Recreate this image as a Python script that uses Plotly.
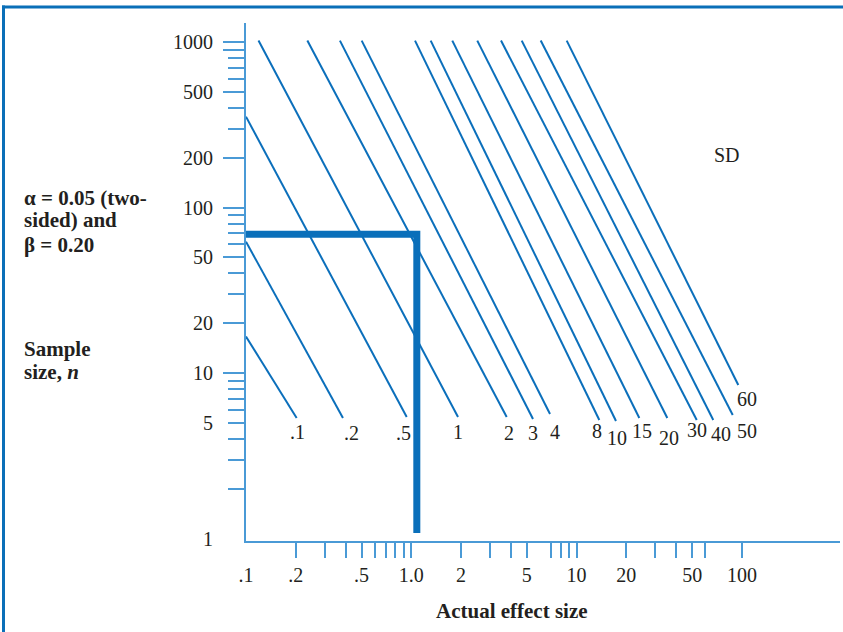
import plotly.graph_objects as go

# ---------------- data ----------------
sd_labels = [".1", ".2", ".5", "1", "2", "3", "4", "8", "10", "15", "20", "30", "40", "50", "60"]
start_effect = [0.1, 0.1, 0.1, 0.119, 0.235, 0.370, 0.501, 1.053, 1.310, 1.770, 2.507, 3.488, 4.655, 6.065, 8.71]
start_n = [16.6, 62.1, 354, 1020, 1020, 1020, 1020, 1020, 1020, 1020, 1020, 1020, 1020, 1020, 1020]
end_effect = [0.2025, 0.386, 0.938, 1.917, 3.777, 5.448, 6.905, 13.72, 17.31, 23.95, 35.38, 53.3, 67.1, 88.0, 95.1]
end_n = [5.35, 5.35, 5.42, 5.42, 5.42, 5.27, 5.65, 5.20, 5.13, 5.35, 5.35, 5.20, 5.20, 5.58, 8.46]

example_effect = 1.08
example_n = 69
example_floor_n = 1.08

x_tick_vals = [0.1, 0.2, 0.5, 1, 2, 5, 10, 20, 50, 100]
x_tick_text = [".1", ".2", ".5", "1.0", "2", "5", "10", "20", "50", "100"]
x_mark_vals = [0.2, 0.3, 0.4, 0.5, 0.6, 0.7, 0.8, 0.9, 1, 2, 3, 4, 5, 7, 8, 9, 10,
               20, 30, 40, 50, 60, 100]
y_tick_vals = [1, 5, 10, 20, 50, 100, 200, 500, 1000]
y_tick_text = ["1", "5", "10", "20", "50", "100", "200", "500", "1000"]
y_long_marks = [10, 20, 50, 100, 200, 500, 900, 1000]
y_short_marks = [2, 3, 4, 5, 6, 7, 8, 9, 30, 40, 60, 70, 80, 90, 300, 400, 600, 700, 800]

# ---------------- styling ----------------
W, H = 843, 632
L, R, T, B = 246, 3, 23, 91
PW, PH = W - L - R, H - T - B
LINE_BLUE = "#0b6fbb"
AXIS_BLUE = "#4a9ad6"
FRAME_BLUE = "#0a6fb8"
TXT = "#231f20"
FONT = "Liberation Serif"
Y_RANGE = [-0.0151, 3.1148]


def px(x):
    return (x - L) / PW


def py(y):
    return (H - B - y) / PH


fig = go.Figure()

for lab, x0, y0, x1, y1 in zip(sd_labels, start_effect, start_n, end_effect, end_n):
    fig.add_trace(go.Scatter(x=[x0, x1], y=[y0, y1], mode="lines",
                             line=dict(color=LINE_BLUE, width=2),
                             name="SD " + lab, showlegend=False, hoverinfo="skip"))

# worked example (drawn on the overlaid y axis that carries the tick labels)
fig.add_trace(go.Scatter(x=[start_effect[0], example_effect, example_effect],
                         y=[example_n, example_n, example_floor_n], mode="lines",
                         line=dict(color="#0a6fba", width=7), yaxis="y2",
                         showlegend=False, hoverinfo="skip"))

# line labels
label_pos = [(297, 432), (351, 433), (403, 433), (458, 432), (509, 433), (533, 433),
             (555, 432), (597, 431), (617, 438), (642, 431), (669, 438), (697, 430),
             (721, 434), (747, 431), (747, 399)]
annotations = []
for lab, (lx, ly) in zip(sd_labels, label_pos):
    annotations.append(dict(x=px(lx), y=py(ly), xref="paper", yref="paper", text=lab,
                            showarrow=False, xanchor="center", yanchor="middle",
                            font=dict(family=FONT, size=20, color=TXT)))

annotations.append(dict(x=px(727), y=py(155), xref="paper", yref="paper", text="SD",
                        showarrow=False, xanchor="center", yanchor="middle",
                        font=dict(family=FONT, size=20, color=TXT)))

left_lines = [("<b>α = 0.05 (two-</b>", 198), ("<b>sided) and</b>", 220),
              ("<b>β = 0.20</b>", 245), ("<b>Sample</b>", 349),
              ("<b>size, <i>n</i></b>", 372)]
for txt, ly in left_lines:
    annotations.append(dict(x=px(22), y=py(ly), xref="paper", yref="paper", text=txt,
                            showarrow=False, xanchor="left", yanchor="middle",
                            font=dict(family=FONT, size=21, color=TXT)))

annotations.append(dict(x=px(512), y=py(611), xref="paper", yref="paper",
                        text="<b>Actual effect size</b>", showarrow=False,
                        xanchor="center", yanchor="middle",
                        font=dict(family=FONT, size=21, color=TXT)))

shapes = [
    dict(type="line", xref="paper", yref="paper", x0=px(2), x1=px(W), y0=py(7), y1=py(7),
         line=dict(color=FRAME_BLUE, width=3)),
    dict(type="line", xref="paper", yref="paper", x0=px(3.5), x1=px(3.5), y0=py(5.5), y1=py(H),
         line=dict(color=FRAME_BLUE, width=3)),
]

fig.update_layout(
    width=W, height=H, autosize=False,
    margin=dict(l=L, r=R, t=T, b=B, pad=0),
    plot_bgcolor="white", paper_bgcolor="white",
    showlegend=False,
    annotations=annotations, shapes=shapes,
    xaxis=dict(type="log", range=[-1, -1 + PW / 165.3], showgrid=False, zeroline=False,
               showline=True, linecolor=AXIS_BLUE, linewidth=2,
               tickmode="array", tickvals=x_tick_vals, ticktext=x_tick_text,
               ticks="", ticklabelstandoff=15,
               tickfont=dict(family=FONT, size=20, color=TXT),
               minor=dict(tickmode="array", tickvals=x_mark_vals, ticks="outside",
                          ticklen=15, tickwidth=2, tickcolor=AXIS_BLUE, showgrid=False)),
    yaxis=dict(type="log", range=Y_RANGE, showgrid=False, zeroline=False,
               showline=True, linecolor=AXIS_BLUE, linewidth=2,
               tickmode="array", tickvals=y_long_marks, ticks="outside", ticklen=21,
               tickwidth=2, tickcolor=AXIS_BLUE, showticklabels=False,
               minor=dict(tickmode="array", tickvals=y_short_marks, ticks="outside",
                          ticklen=16, tickwidth=2, tickcolor=AXIS_BLUE, showgrid=False)),
    yaxis2=dict(type="log", range=Y_RANGE, overlaying="y", anchor="x", side="left",
                showgrid=False, zeroline=False, showline=False,
                tickmode="array", tickvals=y_tick_vals, ticktext=y_tick_text,
                ticks="", ticklabelstandoff=32,
                tickfont=dict(family=FONT, size=20, color=TXT)),
)

fig.write_html("out.html", config={"displayModeBar": False},
               post_script="document.body.style.margin='0px';")
